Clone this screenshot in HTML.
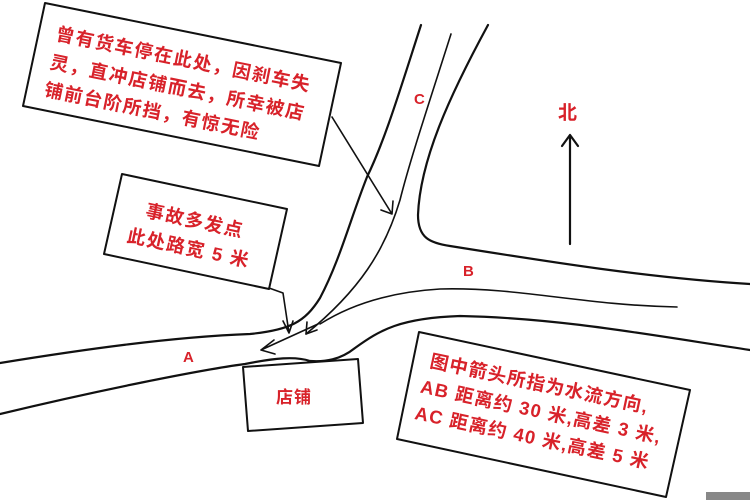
<!DOCTYPE html>
<html><head><meta charset="utf-8"><style>
html,body{margin:0;padding:0;background:#fff;width:750px;height:500px;overflow:hidden}
svg{display:block}
.r{fill:#d8222a;font-family:"Liberation Sans","Noto Sans CJK SC",sans-serif;font-weight:bold}
</style></head><body>
<svg width="750" height="500" viewBox="0 0 750 500">
<g fill="none" stroke="#111" stroke-width="2.2" stroke-linecap="round" stroke-linejoin="round">
<path d="M421,25 C400,90 385,140 367,177 C350,220 340,260 320,298 C305,322 290,330 250,334 C170,337 80,350 0,363"/>
<path stroke-width="1.6" d="M451,34 C430,100 410,160 400,200 C385,250 360,290 306,334"/>
<path d="M488,25 C450,95 420,160 418,215 C418,238 430,243 450,246 C550,262 650,278 750,284"/>
<path stroke-width="1.6" d="M320,324 C350,305 390,292 440,289 C520,287 580,305 677,307"/>
<path d="M0,414 C100,390 200,370 245,364 C275,358 295,356 310,361 C325,362 340,360 355,348 C380,330 400,318 460,316 C560,318 650,335 750,350"/>
<path stroke-width="1.6" d="M318,324 L261,350 M261,350 L274,340 M261,350 L275,354"/>
<path stroke-width="1.6" d="M306,334 L307,322 M306,334 L317,330"/>
<path stroke-width="1.6" d="M269,288 L283,293 L289,333 M289,333 L283,321 M289,333 L293,321"/>
<path stroke-width="1.6" d="M332,117 L392,214 M392,214 L381,210 M392,214 L393,201"/>
<path d="M570,244 L570,135 M570,135 L562,146 M570,135 L578,146"/>
<polygon points="45,3 341,63 319,166 23,106" stroke-width="2"/>
<polygon points="122,174 287,209 269,289 104,254" stroke-width="2"/>
<polygon points="243,367 358,359 363,423 248,431" stroke-width="2"/>
<polygon points="419,332 690,390 666,497 397,439" stroke-width="2"/>
</g>
<g class="r" font-size="18.5" letter-spacing="1.5">
<g transform="rotate(11.5 45 3)">
<text x="62" y="37">曾有货车停在此处，因刹车失</text>
<text x="62" y="66">灵，直冲店铺而去，所幸被店</text>
<text x="62" y="94">铺前台阶所挡，有惊无险</text>
</g>
<g transform="rotate(12 122 174)">
<text x="153" y="211">事故多发点</text>
<text x="140" y="239">此处路宽 5 米</text>
</g>
<text x="276" y="403" font-size="17" letter-spacing="1">店铺</text>
<g transform="rotate(12 419 332)" font-size="18.5" letter-spacing="1.2">
<text x="436" y="364">图中箭头所指为水流方向,</text>
<text x="432" y="391">AB 距离约 30 米,高差 3 米,</text>
<text x="432" y="418">AC 距离约 40 米,高差 5 米</text>
</g>
<text x="414" y="104" font-size="15" letter-spacing="0">C</text>
<text x="183" y="362" font-size="15" letter-spacing="0">A</text>
<text x="463" y="276" font-size="15" letter-spacing="0">B</text>
<text x="558" y="119" font-size="19" letter-spacing="0">北</text>
</g>
<rect x="706" y="492" width="44" height="8" fill="#888"/>
</svg>
</body></html>
